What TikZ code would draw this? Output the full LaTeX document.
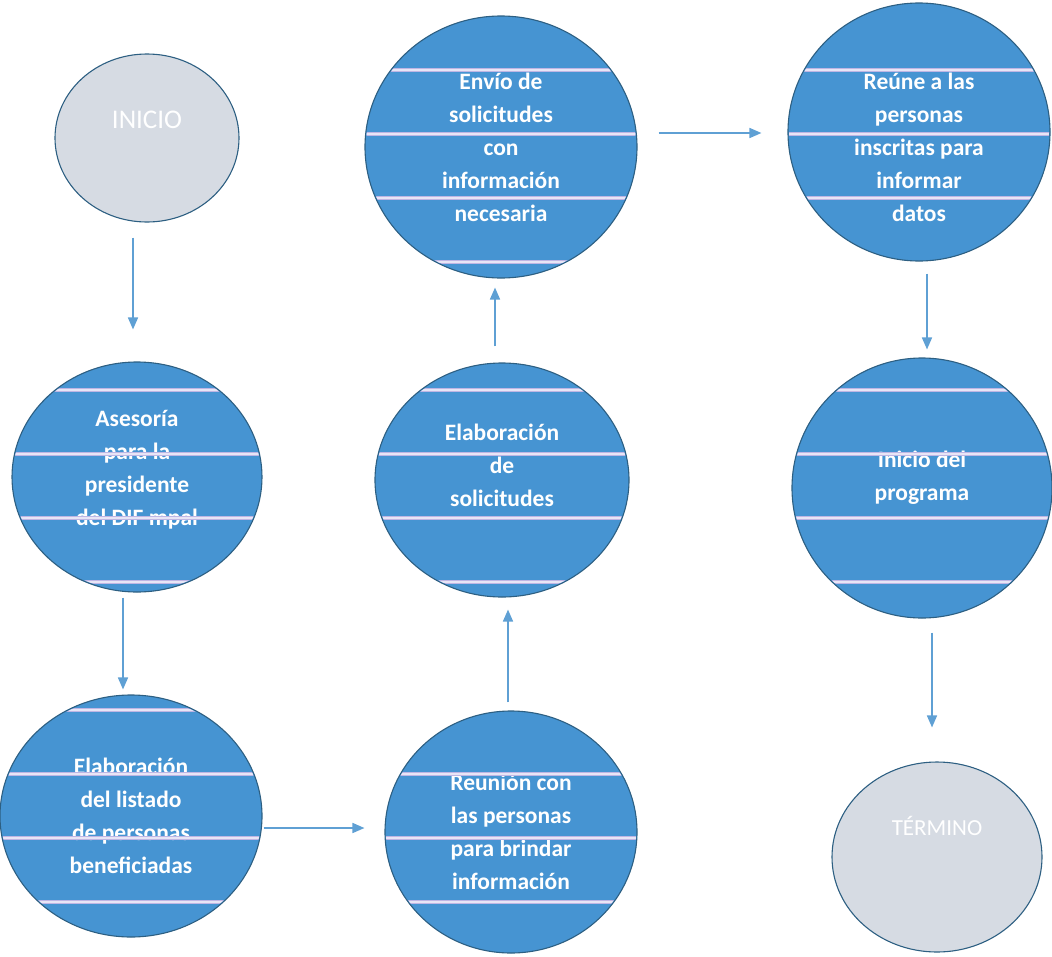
\documentclass[tikz,border=0pt]{standalone}
\usepackage{fontspec}
\setmainfont{Carlito}
\usetikzlibrary{shapes.geometric,arrows.meta}

\definecolor{azul}{RGB}{70,148,210}
\definecolor{gris}{RGB}{214,219,227}
\definecolor{borde}{RGB}{45,95,130}
\definecolor{flechaazul}{RGB}{95,160,212}
\definecolor{lila}{RGB}{190,182,228}

\begin{document}
\begin{tikzpicture}[x=1pt,y=-1pt,
  paso/.style={ellipse,draw=borde,line width=1.1pt,fill=azul,inner sep=0pt,
    text=white,align=center,font=\bfseries\fontsize{23.5}{33}\selectfont},
  extremo/.style={ellipse,draw=borde,line width=1.1pt,fill=gris,inner sep=0pt,
    text=white,font=\fontsize{23}{26}\selectfont},
  flecha/.style={draw=flechaazul,line width=1.6pt,-{Triangle[length=12pt,width=10pt]}},
  franja/.style={draw=lila,line width=1pt,double=white!65!lila,double distance=1.3pt}]
\useasboundingbox (0,0) rectangle (1052,956);

% nodos
\node[extremo,minimum width=184,minimum height=168,font=\fontsize{27}{30}\selectfont] (inicio) at (147,138)
  {INICIO\rule[-37pt]{0pt}{0pt}};
\node[paso,minimum width=250,minimum height=230] (asesoria) at (137,477)
  {Asesoría\\para la\\presidente\\del DIF mpal\rule[-19pt]{0pt}{0pt}};
\node[paso,minimum width=262,minimum height=242] (listado) at (131,816)
  {Elaboración\\del listado\\de personas\\beneficiadas};
\node[paso,minimum width=252,minimum height=242] (reunion) at (511,832)
  {Reunión con\\las personas\\para brindar\\información};
\node[paso,minimum width=254,minimum height=234] (elabsol) at (502,480)
  {Elaboración\\de\\solicitudes\rule[-30pt]{0pt}{0pt}};
\node[paso,minimum width=272,minimum height=262] (envio) at (501,147)
  {Envío de\\solicitudes\\con\\información\\necesaria};
\node[paso,minimum width=262,minimum height=258] (reune) at (919,132)
  {\rule{0pt}{48pt}Reúne a las\\personas\\inscritas para\\informar\\datos};
\node[paso,minimum width=260,minimum height=260] (programa) at (922,488)
  {Inicio del\\programa\rule[-25pt]{0pt}{0pt}};
\node[extremo,minimum width=210,minimum height=190] (termino) at (937,857)
  {TÉRMINO\rule[-63pt]{0pt}{0pt}};

% franjas del escaneo
\begin{scope}
\clip (asesoria.center) ellipse [x radius=124, y radius=114]
      (listado.center) ellipse [x radius=130, y radius=120]
      (reunion.center) ellipse [x radius=125, y radius=120]
      (elabsol.center) ellipse [x radius=126, y radius=116]
      (envio.center) ellipse [x radius=135, y radius=130]
      (reune.center) ellipse [x radius=130, y radius=128]
      (programa.center) ellipse [x radius=129, y radius=129];
\foreach \yy in {70,134,...,902}
  \draw[franja] (0,\yy) -- (1052,\yy);
\end{scope}

% flechas
\draw[flecha] ([xshift=-14pt,yshift=-15pt]inicio.south) -- ([xshift=-4pt,yshift=32pt]asesoria.north);
\draw[flecha] ([xshift=-14pt,yshift=-5pt]asesoria.south) -- ([xshift=-8pt,yshift=5pt]listado.north);
\draw[flecha] ([xshift=1pt,yshift=-12pt]listado.east) -- ([xshift=-20pt,yshift=4pt]reunion.west);
\draw[flecha] ([xshift=-3pt,yshift=8pt]reunion.north) -- ([xshift=6pt,yshift=-12pt]elabsol.south);
\draw[flecha] ([xshift=-7pt,yshift=16pt]elabsol.north) -- ([xshift=-6pt,yshift=-9pt]envio.south);
\draw[flecha] ([xshift=21pt,yshift=14pt]envio.east) -- ([xshift=-26pt,yshift=-1pt]reune.west);
\draw[flecha] ([xshift=8pt,yshift=-12pt]reune.south) -- ([xshift=5pt,yshift=8pt]programa.north);
\draw[flecha] ([xshift=10pt,yshift=-14pt]programa.south) -- ([xshift=-5pt,yshift=34pt]termino.north);
\end{tikzpicture}
\end{document}
